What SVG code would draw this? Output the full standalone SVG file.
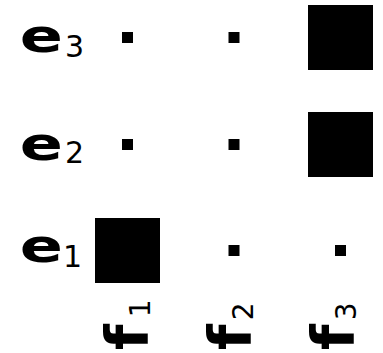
<svg xmlns="http://www.w3.org/2000/svg" width="383" height="353" viewBox="0 0 383 353">
<style>
.e{font-family:"DejaVu Sans",sans-serif;font-weight:bold;font-size:47px;fill:#000}
.s{font-family:"DejaVu Sans",sans-serif;font-weight:normal;font-size:30px;fill:#000}
.c{font-family:"DejaVu Sans",sans-serif;font-weight:bold;font-size:59px;fill:#000}
.cs{font-family:"DejaVu Sans",sans-serif;font-weight:normal;font-size:28px}
.big{fill:#000}
.small{fill:#000}
</style>
<rect width="383" height="353" fill="#fff"/>
<g id="row-e3">
<text class="e" transform="translate(19.8,51.5) scale(1.355,1)">e</text>
<text class="s" x="65" y="57">3</text>
</g>
<g id="row-e2">
<text class="e" transform="translate(19.8,159.5) scale(1.355,1)">e</text>
<text class="s" x="65" y="163">2</text>
</g>
<g id="row-e1">
<text class="e" transform="translate(19.8,261.5) scale(1.355,1)">e</text>
<text class="s" x="63" y="267">1</text>
</g>
<g id="cells">
<rect id="c31" class="small" x="122" y="32" width="11" height="11"/>
<rect id="c32" class="small" x="228.5" y="32" width="11" height="11"/>
<rect id="c33" class="big" x="308" y="5" width="65" height="65"/>
<rect id="c21" class="small" x="122" y="139" width="11" height="11"/>
<rect id="c22" class="small" x="228.5" y="139" width="11" height="11"/>
<rect id="c23" class="big" x="308" y="112" width="65" height="65"/>
<rect id="c11" class="big" x="95" y="218" width="65" height="65"/>
<rect id="c12" class="small" x="228.5" y="245" width="11" height="11"/>
<rect id="c13" class="small" x="335" y="245" width="11" height="11"/>
</g>
<g id="col-1">
<text class="c" transform="translate(148,350) rotate(-90)">f<tspan class="cs" dx="7" dy="2">1</tspan></text>
</g>
<g id="col-2">
<text class="c" transform="translate(251,350) rotate(-90)">f<tspan class="cs" dx="4" dy="2">2</tspan></text>
</g>
<g id="col-3">
<text class="c" transform="translate(354,350) rotate(-90)">f<tspan class="cs" dx="4" dy="2">3</tspan></text>
</g>
</svg>
